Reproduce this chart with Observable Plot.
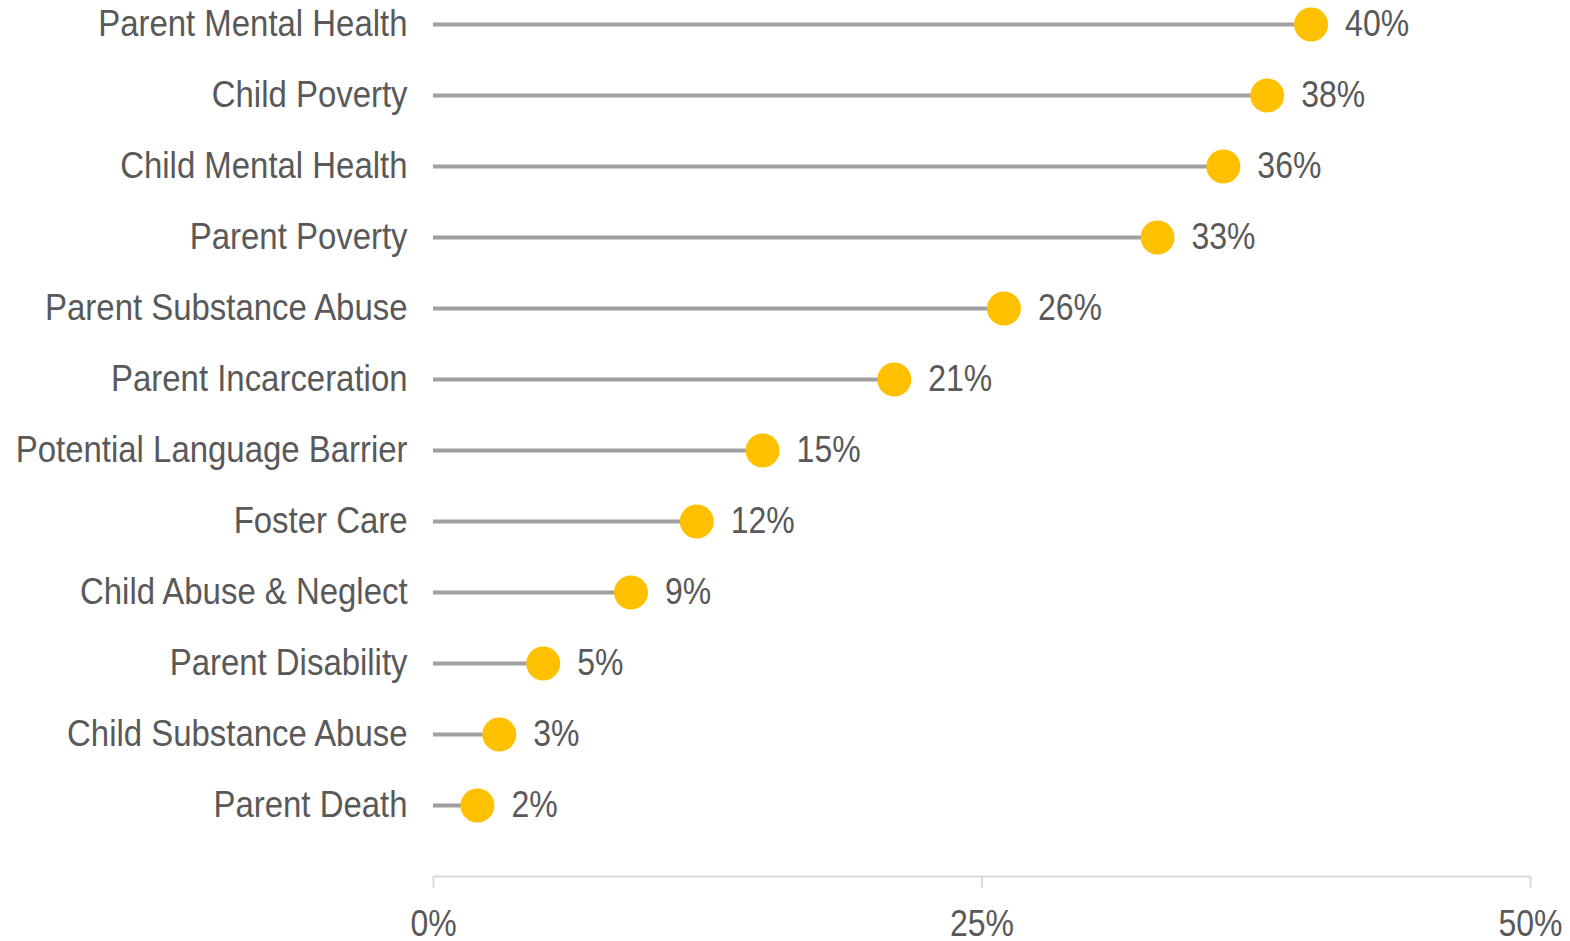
<!DOCTYPE html>
<html>
<head>
<meta charset="utf-8">
<script src="https://cdn.jsdelivr.net/npm/d3@7"></script>
<script src="https://cdn.jsdelivr.net/npm/@observablehq/plot@0.6"></script>
<style>
  html, body { margin: 0; padding: 0; background: #fff; }
  svg { display: block; }
</style>
</head>
<body>
<div id="chart"></div>
<script>
const categories = [
  "Parent Mental Health",
  "Child Poverty",
  "Child Mental Health",
  "Parent Poverty",
  "Parent Substance Abuse",
  "Parent Incarceration",
  "Potential Language Barrier",
  "Foster Care",
  "Child Abuse & Neglect",
  "Parent Disability",
  "Child Substance Abuse",
  "Parent Death"
];
const values = [0.40, 0.38, 0.36, 0.33, 0.26, 0.21, 0.15, 0.12, 0.09, 0.05, 0.03, 0.02];
const xTicks = [0, 0.25, 0.5];

const data = categories.map((c, i) => ({category: c, value: values[i]}));
const axisRow = " ";
const textColor = "#595959";
const font = "'Liberation Sans Narrow', 'Arial Narrow', 'Liberation Sans', Arial, sans-serif";
const fs = 37;

const chart = Plot.plot({
  width: 1570,
  height: 941,
  marginTop: 23,
  marginBottom: 65,
  marginLeft: 433,
  marginRight: 40,
  style: {fontFamily: font, fontSize: fs + "px", color: textColor, background: "#fff", overflow: "visible"},
  x: {domain: [0, 0.5]},
  y: {type: "point", domain: [...categories, axisRow], padding: 0},
  marks: [
    Plot.ruleY([axisRow], {x1: 0, x2: 0.5, stroke: "#d9d9d9", strokeWidth: 2}),
    Plot.axisX({ticks: xTicks, tickFormat: d3.format(".0%"), tickSize: 12, tickPadding: 21,
      stroke: "#d9d9d9", strokeWidth: 2, fill: textColor, fontSize: fs, label: null, className: "xax"}),
    Plot.axisY({tickSize: 0, tickPadding: 26, fill: textColor, fontSize: fs, label: null, className: "yax"}),
    Plot.ruleY(data, {y: "category", x1: 0, x2: "value", stroke: "#a0a0a0", strokeWidth: 4}),
    Plot.dot(data, {y: "category", x: "value", r: 17, fill: "#FFC000"}),
    Plot.text(data, {y: "category", x: "value", text: d => d3.format(".0%")(d.value),
      textAnchor: "start", dx: 34, fill: textColor, fontSize: fs, className: "vals"})
  ]
});
document.getElementById("chart").append(chart);

// Emulate a narrow (condensed) face: squeeze each label horizontally about its anchor.
function condense(sel, s) {
  chart.querySelectorAll(sel).forEach(t => {
    const b = t.getBBox();
    const anchor = t.getAttribute("text-anchor") || getComputedStyle(t).textAnchor ||
      (t.closest("[text-anchor]") ? t.closest("[text-anchor]").getAttribute("text-anchor") : "start");
    const ax = anchor === "end" ? b.x + b.width : anchor === "middle" ? b.x + b.width / 2 : b.x;
    const prev = t.getAttribute("transform") || "";
    t.setAttribute("transform", `${prev} translate(${ax},0) scale(${s},1) translate(${-ax},0)`.trim());
  });
}
condense("g[aria-label='y-axis tick label'] text, .yax text", 0.89);
condense(".vals text", 0.865);
condense("g[aria-label='x-axis tick label'] text, .xax text", 0.865);
</script>
</body>
</html>
